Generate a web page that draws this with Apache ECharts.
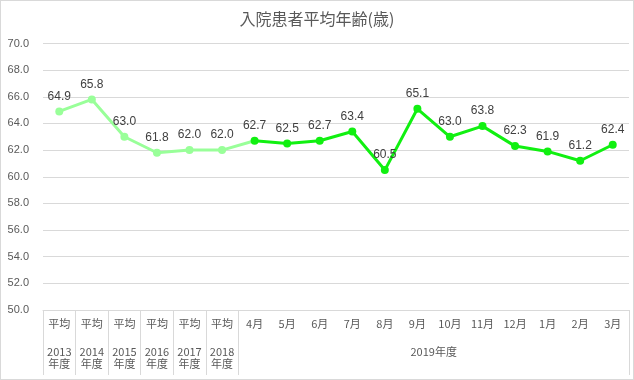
<!DOCTYPE html>
<html><head><meta charset="utf-8">
<script src="https://cdn.jsdelivr.net/npm/echarts@6/dist/echarts.min.js"></script>
<style>
html,body{margin:0;padding:0;background:#fff;}
#c{width:634px;height:380px;box-sizing:border-box;border:1px solid #d9d9d9;}
</style></head>
<body><div id="c"></div>
<script>
const title = '入院患者平均年齢(歳)';
const topLabels = ['平均','平均','平均','平均','平均','平均','4月','5月','6月','7月','8月','9月','10月','11月','12月','1月','2月','3月'];
const yearLabels = ['2013\n年度','2014\n年度','2015\n年度','2016\n年度','2017\n年度','2018\n年度'];
const groupLabel = '2019年度';
const yearAvg = [64.9, 65.8, 63.0, 61.8, 62.0, 62.0];
const monthly = [62.7, 62.5, 62.7, 63.4, 60.5, 65.1, 63.0, 63.8, 62.3, 61.9, 61.2, 62.4];

const n = topLabels.length;
const secondRow = topLabels.map((_, i) => i < yearLabels.length ? yearLabels[i] : '');
const boundaryRow = [];
for (let i = 0; i <= n; i++) boundaryRow.push(i === yearLabels.length + monthly.length / 2 ? groupLabel : '');

const s1 = yearAvg.slice();
s1.push({ value: monthly[0], symbol: 'none', label: { show: false } });
while (s1.length < n) s1.push('-');
const s2 = [];
for (let i = 0; i < yearAvg.length; i++) s2.push('-');
monthly.forEach(v => s2.push(v));

const font = 'Liberation Sans, Arial, sans-serif';
const chart = echarts.init(document.getElementById('c'));
const lbl = { show: true, position: 'top', distance: 5, color: '#404040', fontSize: 12, fontFamily: font, formatter: p => Number(p.value).toFixed(1) };
chart.setOption({
  animation: false,
  title: { text: title, left: 'center', top: 5, textStyle: { color: '#595959', fontSize: 16, fontWeight: 'normal', fontFamily: 'Noto Sans CJK JP' } },
  grid: { left: 42, right: 4, top: 42.5, bottom: 69 },
  xAxis: [
    { type: 'category', data: topLabels, position: 'bottom',
      axisLine: { lineStyle: { color: '#d9d9d9' } }, axisTick: { show: false },
      axisLabel: { interval: 0, margin: 8, color: '#595959', fontSize: 11, fontFamily: 'Noto Sans CJK JP' } },
    { type: 'category', data: secondRow, position: 'bottom',
      axisLine: { show: false }, axisTick: { show: false },
      axisLabel: { interval: 0, margin: 36, lineHeight: 12, color: '#595959', fontSize: 11, fontFamily: 'Noto Sans CJK JP' } },
    { type: 'category', data: boundaryRow, position: 'bottom', boundaryGap: false,
      axisLine: { show: false },
      axisTick: { show: true, length: 65, interval: (i) => i <= yearLabels.length || i === n, lineStyle: { color: '#d9d9d9' } },
      axisLabel: { interval: 0, margin: 36, color: '#595959', fontSize: 11, fontFamily: 'Noto Sans CJK JP' } }
  ],
  yAxis: { type: 'value', min: 50, max: 70, interval: 2,
    axisLine: { show: false }, axisTick: { show: false },
    splitLine: { lineStyle: { color: '#d9d9d9' } },
    axisLabel: { margin: 14, color: '#595959', fontSize: 11, fontFamily: font, formatter: v => v.toFixed(1) } },
  series: [
    { type: 'line', xAxisIndex: 0, data: s1, symbol: 'circle', symbolSize: 8,
      lineStyle: { color: '#99ff99', width: 3 }, itemStyle: { color: '#99ff99' }, label: lbl },
    { type: 'line', xAxisIndex: 0, data: s2, symbol: 'circle', symbolSize: 8,
      lineStyle: { color: '#11f011', width: 3 }, itemStyle: { color: '#11f011' }, label: lbl }
  ]
});
</script></body></html>
